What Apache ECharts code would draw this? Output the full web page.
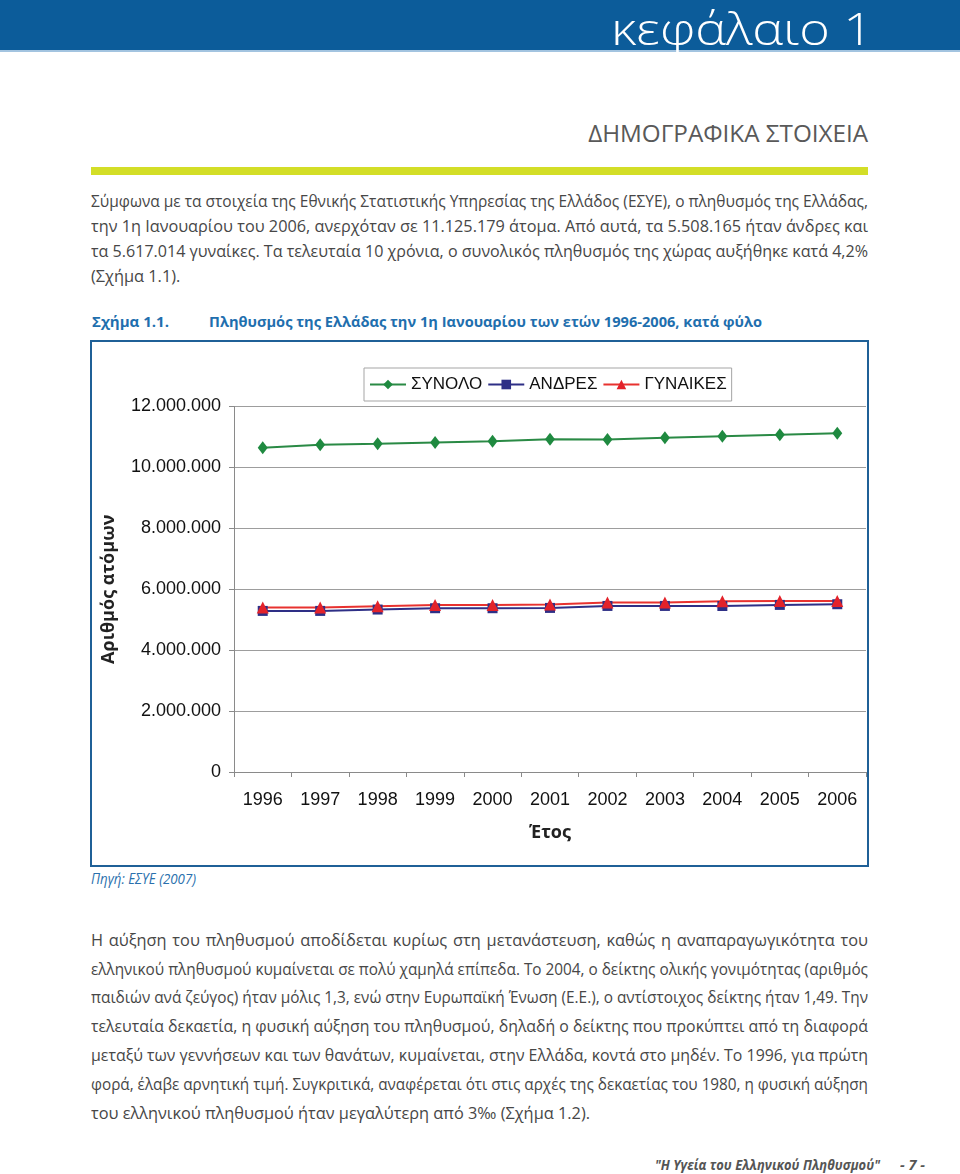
<!DOCTYPE html>
<html>
<head>
<meta charset="utf-8">
<script src="https://cdn.jsdelivr.net/npm/echarts@6/dist/echarts.min.js"></script>
<style>
  html, body { margin: 0; padding: 0; }
  body { width: 960px; height: 1174px; position: relative; background: #fff; overflow: hidden;
         font-family: 'Open Sans', 'Noto Sans', 'Liberation Sans', sans-serif; }
  .t { position: absolute; white-space: nowrap; }
  .t span { display: inline-block; white-space: nowrap; }
  #topbar { position: absolute; left: 0; top: 0; width: 960px; height: 50px; background: #0c5c9a; border-bottom: 2px solid #a3c4e0; }
  #chap { font-size: 45px; line-height: 45px; color: #fff; font-weight: 300; }
  #title { font-size: 24px; line-height: 24px; color: #595959; }
  #rule { position: absolute; left: 91px; top: 167px; width: 777px; height: 8px; background: #d3de27; }
  .ln { font-size: 16px; line-height: 20px; color: #474747; }
  .cap { font-size: 15px; line-height: 20px; font-weight: bold; color: #1f6fae; }
  #src { font-size: 14px; line-height: 20px; font-style: italic; color: #2a70ad; }
  .foot { font-size: 15px; line-height: 20px; font-style: italic; font-weight: bold; color: #555; }
  #chart { position: absolute; left: 92px; top: 342px; width: 775px; height: 523px; }
  #box { position: absolute; left: 90px; top: 340px; width: 779px; height: 527px; box-sizing: border-box;
         border: 2px solid #1f6097; pointer-events: none; }
</style>
</head>
<body>
<div id="topbar"></div>
<div id="rule"></div>
<div id="chart"></div>
<div id="box"></div>
<div id="texts"></div>

<script>
// ---- data ----
const years = ['1996', '1997', '1998', '1999', '2000', '2001', '2002', '2003', '2004', '2005', '2006'];
const seriesNames = ['ΣΥΝΟΛΟ', 'ΑΝΔΡΕΣ', 'ΓΥΝΑΙΚΕΣ'];
const totalPop = [10646000, 10744000, 10777000, 10820000, 10862000, 10928000, 10918000, 10974000, 11026000, 11072000, 11125179];
const menPop   = [5289000, 5289000, 5334000, 5377000, 5377000, 5387000, 5452000, 5452000, 5450000, 5486000, 5508165];
const womenPop = [5400000, 5400000, 5443000, 5485000, 5485000, 5498000, 5564000, 5564000, 5607000, 5616000, 5617014];
const yAxisTitle = 'Αριθμός ατόμων';
const xAxisTitle = 'Έτος';

// ---- page text ----
const chapterText = 'κεφάλαιο 1';
const sectionText = 'ΔΗΜΟΓΡΑΦΙΚΑ ΣΤΟΙΧΕΙΑ';
const para1 = [
  'Σύμφωνα με τα στοιχεία της Εθνικής Στατιστικής Υπηρεσίας της Ελλάδος (ΕΣΥΕ), ο πληθυσμός της Ελλάδας,',
  'την 1η Ιανουαρίου του 2006, ανερχόταν σε 11.125.179 άτομα. Από αυτά, τα 5.508.165 ήταν άνδρες και',
  'τα 5.617.014 γυναίκες. Τα τελευταία 10 χρόνια, ο συνολικός πληθυσμός της χώρας αυξήθηκε κατά 4,2%',
  '(Σχήμα 1.1).'
];
const captionNo = 'Σχήμα 1.1.';
const captionText = 'Πληθυσμός της Ελλάδας την 1η Ιανουαρίου των ετών 1996-2006, κατά φύλο';
const sourceText = 'Πηγή: ΕΣΥΕ (2007)';
const para2 = [
  'Η αύξηση του πληθυσμού αποδίδεται κυρίως στη μετανάστευση, καθώς η αναπαραγωγικότητα του',
  'ελληνικού πληθυσμού κυμαίνεται σε πολύ χαμηλά επίπεδα. Το 2004, ο δείκτης ολικής γονιμότητας (αριθμός',
  'παιδιών ανά ζεύγος) ήταν μόλις 1,3, ενώ στην Ευρωπαϊκή Ένωση (Ε.Ε.), ο αντίστοιχος δείκτης ήταν 1,49. Την',
  'τελευταία δεκαετία, η φυσική αύξηση του πληθυσμού, δηλαδή ο δείκτης που προκύπτει από τη διαφορά',
  'μεταξύ των γεννήσεων και των θανάτων, κυμαίνεται, στην Ελλάδα, κοντά στο μηδέν. Το 1996, για πρώτη',
  'φορά, έλαβε αρνητική τιμή. Συγκριτικά, αναφέρεται ότι στις αρχές της δεκαετίας του 1980, η φυσική αύξηση',
  'του ελληνικού πληθυσμού ήταν μεγαλύτερη από 3‰ (Σχήμα 1.2).'
];
const footerText = '"Η Υγεία του Ελληνικού Πληθυσμού"';
const pageText = '- 7 -';

const holder = document.getElementById('texts');
function addText(cls, id, text) {
  const d = document.createElement('div');
  d.className = 't ' + cls;
  if (id) d.id = id;
  const s = document.createElement('span');
  s.textContent = text;
  d.appendChild(s);
  holder.appendChild(d);
  return d;
}
// place a single text by baseline; condense/expand horizontally with scaleX
function place(d, opts) {
  const s = d.firstChild;
  const w = s.getBoundingClientRect().width;
  const fs = parseFloat(getComputedStyle(d).fontSize);
  const lh = parseFloat(getComputedStyle(d).lineHeight);
  const sc = opts.scale != null ? opts.scale : opts.width / w;
  s.style.transformOrigin = opts.right != null ? '100% 50%' : '0 50%';
  s.style.transform = 'scaleX(' + sc + ')';
  const off = (lh - 1.362 * fs) / 2 + 1.069 * fs;
  d.style.top = (opts.baseline - off) + 'px';
  if (opts.right != null) d.style.left = (opts.right - w) + 'px';
  else d.style.left = opts.left + 'px';
  return sc;
}
function paragraph(lines, firstBaseline, lineH, scale) {
  lines.forEach((txt, i) => {
    const d = addText('ln', null, txt);
    const s = d.firstChild;
    const w = s.getBoundingClientRect().width;
    let sc = scale;
    if (i < lines.length - 1) {
      if (w * scale > 777) {
        sc = 777 / w;
      } else {
        const n = (txt.match(/ /g) || []).length;
        s.style.wordSpacing = ((777 / scale - w) / n) + 'px';
      }
    }
    place(d, { left: 91, baseline: firstBaseline + i * lineH, scale: sc });
  });
}

place(addText('', 'chap', chapterText), { right: 873, baseline: 45, width: 262 });
place(addText('', 'title', sectionText), { right: 868, baseline: 142, width: 280 });

const probe = addText('ln', null, para2[para2.length - 1]);
const bodyScale = 499 / probe.firstChild.getBoundingClientRect().width;
holder.removeChild(probe);

paragraph(para1, 207, 25, bodyScale);
place(addText('cap', null, captionNo), { left: 92, baseline: 327, width: 77 });
place(addText('cap', null, captionText), { left: 209, baseline: 327, width: 553 });
place(addText('', 'src', sourceText), { left: 91, baseline: 884, width: 105 });
paragraph(para2, 946, 28.8, bodyScale);
place(addText('foot', null, footerText), { left: 655, baseline: 1170, width: 225 });
place(addText('foot', null, pageText), { left: 900, baseline: 1170, width: 25 });

// ---- chart ----
const ARIAL = "'Liberation Sans', Arial, sans-serif";
const HUMAN = "'Open Sans', 'Noto Sans', sans-serif";
function dots(v) { return String(v).replace(/\B(?=(\d{3})+(?!\d))/g, '.'); }

const chart = echarts.init(document.getElementById('chart'), null, { renderer: 'canvas' });
chart.setOption({
  animation: false,
  backgroundColor: '#fff',
  grid: { left: 133, top: 64.5, right: 1, bottom: 93, containLabel: false },
  legend: {
    data: seriesNames,
    left: 272, top: 26,
    padding: [8, 5, 8, 5],
    itemWidth: 36, itemHeight: 12, itemGap: 5,
    backgroundColor: '#fff', borderColor: '#a5a5a5', borderWidth: 1,
    textStyle: { fontFamily: ARIAL, fontSize: 17, color: '#111' }
  },
  xAxis: {
    type: 'category',
    data: years,
    boundaryGap: true,
    name: xAxisTitle,
    nameLocation: 'middle',
    nameGap: 52,
    nameTextStyle: { fontFamily: HUMAN, fontWeight: 'bold', fontSize: 18, color: '#222' },
    axisLine: { show: true, lineStyle: { color: '#8a8a8a', width: 1 } },
    axisTick: { show: true, length: 5, lineStyle: { color: '#8a8a8a' } },
    axisLabel: { fontFamily: ARIAL, fontSize: 18, color: '#111', margin: 19, interval: 0 },
    splitLine: { show: false }
  },
  yAxis: {
    type: 'value',
    min: 0, max: 12000000, interval: 2000000,
    name: yAxisTitle,
    nameLocation: 'middle',
    nameGap: 116,
    nameRotate: 90,
    nameTextStyle: { fontFamily: HUMAN, fontWeight: 'bold', fontSize: 18, color: '#222' },
    axisLine: { show: true, lineStyle: { color: '#8a8a8a', width: 1 } },
    axisTick: { show: true, length: 5, lineStyle: { color: '#8a8a8a' } },
    axisLabel: { fontFamily: ARIAL, fontSize: 18, color: '#111', margin: 13, formatter: dots },
    splitLine: { show: true, lineStyle: { color: '#9d9d9d', width: 1 } }
  },
  series: [
    {
      name: seriesNames[0], type: 'line', data: totalPop,
      symbol: 'diamond', symbolSize: [10, 13],
      lineStyle: { color: '#2a8a45', width: 2 },
      itemStyle: { color: '#1f8a40' }
    },
    {
      name: seriesNames[1], type: 'line', data: menPop,
      symbol: 'rect', symbolSize: 10,
      lineStyle: { color: '#2e2f86', width: 2 },
      itemStyle: { color: '#2e2f86' }
    },
    {
      name: seriesNames[2], type: 'line', data: womenPop,
      symbol: 'triangle', symbolSize: 12,
      lineStyle: { color: '#e8322f', width: 2 },
      itemStyle: { color: '#e3222a' }
    }
  ]
});
</script>
</body>
</html>
